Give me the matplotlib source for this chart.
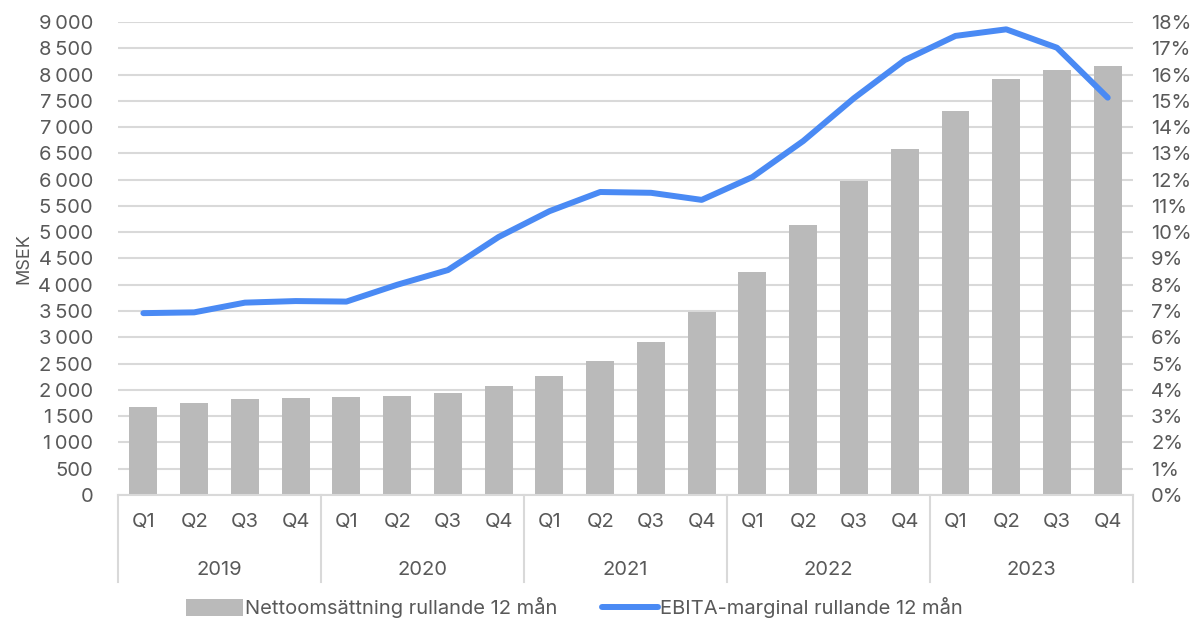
"""Nettoomsättning och EBITA-marginal, rullande 12 mån (2019-2023)."""
import matplotlib
matplotlib.use('Agg')
import matplotlib.pyplot as plt
import matplotlib.transforms as mtransforms
from matplotlib.patches import Patch
from matplotlib.lines import Line2D
from matplotlib.ticker import FuncFormatter, MultipleLocator

plt.rcParams['font.family'] = ['Inter', 'DejaVu Sans']

years = ['2019', '2020', '2021', '2022', '2023']
quarters = ['Q1', 'Q2', 'Q3', 'Q4']

# MSEK, rolling 12 months
net_sales = [1680, 1756, 1826, 1845,
             1864, 1890, 1940, 2080,
             2264, 2550, 2911, 3482,
             4243, 5137, 5974, 6583,
             7310, 7912, 8092, 8168]

# EBITA margin %, rolling 12 months
ebita_margin = [6.92, 6.95, 7.32, 7.38,
                7.36, 8.00, 8.56, 9.82,
                10.80, 11.53, 11.50, 11.23,
                12.10, 13.47, 15.10, 16.55,
                17.47, 17.72, 17.02, 15.12]

TEXT = '#595959'
GRID = '#d9d9d9'
BAR = '#bababa'
LINE = '#4a8af4'
FS = 14.5

labels = [q for y in years for q in quarters]
x = list(range(len(labels)))

fig = plt.figure(figsize=(11.92, 6.21), dpi=100)
ax = fig.add_axes([0.099, 0.2029, 0.8516, 0.7617])
ax2 = ax.twinx()

ax.bar(x, net_sales, width=0.55, color=BAR, zorder=2)
ax.set_ylim(0, 9000)
ax.set_xlim(-0.5, len(x) - 0.5)
ax.yaxis.set_major_locator(MultipleLocator(500))
ax.yaxis.set_major_formatter(FuncFormatter(lambda v, p: f'{int(v):,}'.replace(',', '\u2009')))
ax.grid(axis='y', color=GRID, linewidth=1.5, zorder=0)
ax.set_axisbelow(True)

ax2.plot(x, ebita_margin, color=LINE, linewidth=4.3, solid_capstyle='round', zorder=3)
ax2.set_ylim(0, 18)
ax2.yaxis.set_major_locator(MultipleLocator(1))
ax2.yaxis.set_major_formatter(FuncFormatter(lambda v, p: f'{int(round(v))}%'))

for a in (ax, ax2):
    for s in a.spines.values():
        s.set_visible(False)
    a.tick_params(axis='y', length=0, labelsize=FS, labelcolor=TEXT)
ax.tick_params(axis='y', pad=18)
ax2.tick_params(axis='y', pad=13)
ax.spines['bottom'].set_visible(True)
ax.spines['bottom'].set_color(GRID)
ax.spines['bottom'].set_linewidth(1.5)

ax.set_xticks(x)
ax.set_xticklabels(labels)
ax.tick_params(axis='x', length=0, pad=13, labelsize=FS, labelcolor=TEXT)

ax.set_ylabel('MSEK', fontsize=13, color=TEXT, labelpad=4)

# year group separators and labels
trans = mtransforms.blended_transform_factory(ax.transData, ax.transAxes)
for i in range(len(years) + 1):
    xs = i * 4 - 0.5
    ax.plot([xs, xs], [0, -0.184], transform=trans, color=GRID,
            linewidth=1.5, clip_on=False)
for i, yr in enumerate(years):
    ax.text(i * 4 + 1.5, -0.159, yr, transform=trans, ha='center', va='center',
            fontsize=FS, color=TEXT)

handles = [Patch(facecolor=BAR, edgecolor='none'),
           Line2D([0], [0], color=LINE, linewidth=4.3, solid_capstyle='round')]
fig.legend(handles, ['Nettoomsättning rullande 12 mån', 'EBITA-marginal rullande 12 mån'],
           loc='center', bbox_to_anchor=(0.482, 0.021), ncol=2, frameon=False,
           fontsize=FS, labelcolor=TEXT, handlelength=2.8, handleheight=0.9,
           handletextpad=0.1, columnspacing=2.2)

fig.savefig('out.png', dpi=100)
